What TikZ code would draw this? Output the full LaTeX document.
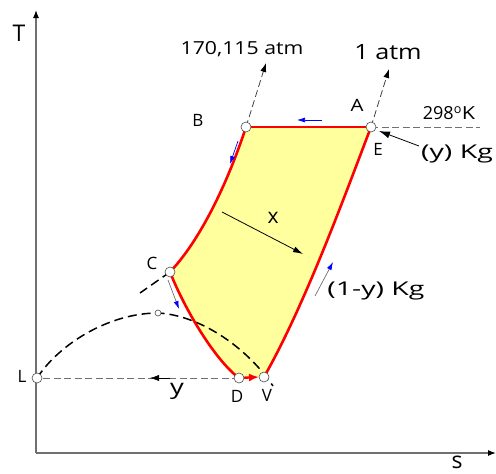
\documentclass[tikz,border=0pt]{standalone}
\usepackage{fontspec}
\usepackage{graphicx}
\setmainfont{Open Sans}
\usetikzlibrary{arrows.meta}
\definecolor{fillyel}{HTML}{FFFF9E}
\definecolor{axgray}{HTML}{707070}
\tikzset{
  redline/.style={red, line width=2.6pt, line join=round},
  dome/.style={black, line width=1.5pt, dash pattern=on 9pt off 5pt},
  guide/.style={axgray, line width=0.9pt, dash pattern=on 7pt off 3.5pt},
  ptc/.style={circle, draw=black!70, fill=white, line width=0.6pt, inner sep=0pt, minimum size=10pt},
  ptsmall/.style={circle, draw=black!70, fill=white, line width=0.6pt, inner sep=0pt, minimum size=6pt},
  lbl/.style={font=\fontsize{17}{19}\selectfont, inner sep=0pt},
  big/.style={font=\fontsize{18}{20}\selectfont, inner sep=0pt},
  kg/.style={font=\fontsize{19}{21}\selectfont, inner sep=0pt},
  huge/.style={font=\fontsize{21}{24}\selectfont, inner sep=0pt},
  axl/.style={font=\fontsize{23}{25}\selectfont, inner sep=0pt},
  bluetip/.style={-{Latex[length=8pt,width=5pt,blue]}, line width=0.7pt}
}
\begin{document}
\begin{tikzpicture}[x=1pt,y=-1pt]
\useasboundingbox (0,0) rectangle (496,474);
% coordinates
\coordinate (pA) at (371,127);
\coordinate (pB) at (246,127);
\coordinate (pC) at (170,272);
\coordinate (pD) at (239,378);
\coordinate (pV) at (264,377);
\coordinate (pVa) at (259,377);
\coordinate (pL) at (37,378);
\coordinate (pTop) at (158,313);
\coordinate (oTop) at (36,10);
\coordinate (oO) at (36,453);
\coordinate (oR) at (496,453);
% axes
\draw[axgray, line width=1.2pt, -{Latex[length=8pt,width=6pt,black]}] (oO) -- (oTop);
\draw[axgray, line width=1.2pt, -{Latex[length=8pt,width=6pt,black]}] (oO) -- (oR);
\node[axl] (lT) at (19,33) {T};
\node[axl] (ls) at (457,462) {s};
% filled cycle
\fill[fillyel] (pB) -- (pA) .. controls (345,195) and (305,305) .. (pV) -- (pD)
  .. controls (215,360) and (185,310) .. (pC) .. controls (205,235) and (232,170) .. (pB) -- cycle;
% saturation dome
\draw[dome] (pL) .. controls (60,343) and (110,313) .. (pTop)
  .. controls (198,315) and (245,345) .. (273,386);
\coordinate (cEnd) at (140,293);
\draw[dome] (pC) -- (cEnd);
% red cycle
\draw[redline] (pB) -- (pA);
\draw[redline] (pA) .. controls (345,195) and (305,305) .. (pV);
\draw[redline] (pB) .. controls (232,170) and (205,235) .. (pC)
  .. controls (185,310) and (215,360) .. (pD);
\draw[red, line width=2.4pt, -{Latex[length=10pt,width=8pt]}] (pD) -- (pVa);
% guides
\coordinate (gR) at (480,127);
\draw[guide] (pA) -- (gR);
\coordinate (gM) at (150,378);
\coordinate (gM2) at (170,378);
\draw[guide] (pD) -- (pL);
\draw[black, -{Latex[length=9pt,width=6pt]}] (gM2) -- (gM);
\coordinate (bUp) at (266,63);
\coordinate (aUp) at (389,69);
\draw[guide, black!75, line width=0.8pt, -{Latex[length=9pt,width=6pt,black]}] (pB) -- (bUp);
\draw[guide, black!75, line width=0.8pt, -{Latex[length=9pt,width=6pt,black]}] (pA) -- (aUp);
% blue arrows
\draw[blue, bluetip] (322,120) -- (297,120);
\draw[blue, bluetip] (238,141) -- (230,164);
\draw[axgray, bluetip] (168,280) -- (179,309);
\draw[axgray, bluetip] (315,296) -- (333,262);
% x arrow
\coordinate (x1) at (222,212);
\coordinate (x2) at (303,254);
\draw[black, line width=0.8pt, -{Latex[length=10pt,width=6pt]}] (x1) -- (x2);
% (y) Kg arrow
\coordinate (y1) at (419,146);
\coordinate (y2) at (379,131);
\draw[black, line width=0.8pt, -{Latex[length=11pt,width=7pt]}] (y1) -- (y2);
% points
\node[ptc] (A) at (pA) {};
\node[ptc] (B) at (pB) {};
\node[ptc] (C) at (pC) {};
\node[ptc] (D) at (pD) {};
\node[ptc] (V) at (pV) {};
\node[ptc] (L) at (pL) {};
\node[ptsmall] (Tp) at (pTop) {};
% labels
\node[lbl] (lA) at (357,105) {\scalebox{1.2}[1]{A}};
\node[lbl] (lB) at (198,120) {B};
\node[lbl] (lE) at (378,149) {E};
\node[lbl] (lC) at (152,263) {C};
\node[lbl] (lD) at (237,396) {D};
\node[lbl] (lV) at (267,395) {V};
\node[lbl] (lL) at (22,376) {L};
\node[big] (lbar) at (242,49) {\scalebox{1.18}[1]{170,115 atm}};
\node[huge] (l1atm) at (388,52) {\scalebox{1.2}[1]{1 atm}};
\node[big] (l298) at (449,113) {298\textsuperscript{o}\scalebox{1.2}[1]{K}};
\node[kg] (lyKg) at (457,154) {\scalebox{1.5}[1]{(y) Kg}};
\node[kg] (l1yKg) at (376,291) {\scalebox{1.5}[1]{(1-y) Kg}};
\node[huge] (lx) at (273,218) {x};
\node[huge] (ly) at (177,391) {\scalebox{1.3}[1]{y}};
\end{tikzpicture}
\end{document}
